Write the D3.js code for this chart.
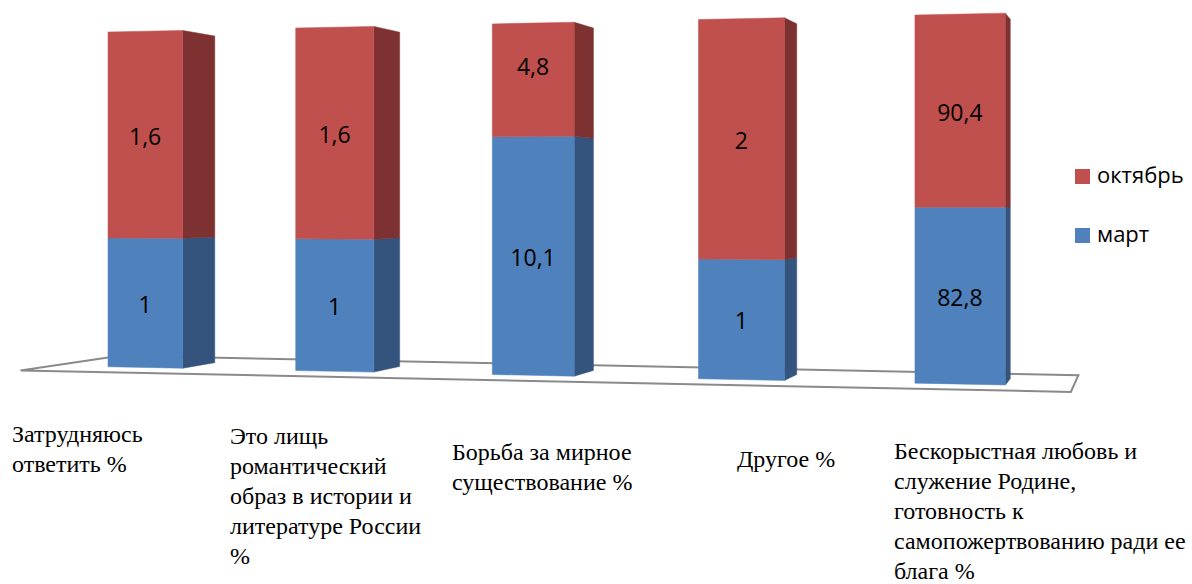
<!DOCTYPE html>
<html><head><meta charset="utf-8">
<script src="https://cdn.jsdelivr.net/npm/d3@7"></script>
<style>body{margin:0;background:#fff}svg{display:block}</style>
</head><body><svg id="c" width="1192" height="584"></svg>
<script>
// ---- data ----
const categories = [
  "Затрудняюсь ответить %",
  "Это лищь романтический образ в истории и литературе России %",
  "Борьба за мирное существование %",
  "Другое %",
  "Бескорыстная любовь и служение Родине, готовность к самопожертвованию ради ее блага %"
];
const categoryLines = [
  ["Затрудняюсь", "ответить %"],
  ["Это лищь", "романтический", "образ в истории и", "литературе России", "%"],
  ["Борьба за мирное", "существование %"],
  ["Другое %"],
  ["Бескорыстная любовь и", "служение Родине,", "готовность к", "самопожертвованию ради ее", "блага %"]
];
const seriesNames = ["март", "октябрь"];
const march = [1, 1, 10.1, 1, 82.8];
const october = [1.6, 1.6, 4.8, 2, 90.4];

// ---- layout / style ----
const colors = {"март": {front: "#4F81BD", side: "#34547E"}, "октябрь": {front: "#C0504D", side: "#7D3130"}};
const labelAnchors = [[12, 442], [230, 444], [452, 460], [737, 467], [894, 459]];
const labelShift = {"октябрь": [0, 0, -15, 0, 0], "март": [0, 0, 0, 0, 0]};

const svg = d3.select("#c");
const rows = categories.map((c, i) => ({cat: c, "март": march[i], "октябрь": october[i]}));
const stacked = d3.stack().keys(seriesNames).offset(d3.stackOffsetExpand)(rows);

const uScale = d3.scaleBand().domain(categories).range([-0.0677, 1.0663]).paddingInner(0.597).paddingOuter(0.2985);
const vScale = d3.scaleLinear().domain([0, 1]).range([0, 100]);

// perspective: front plane mapping + depth toward a vanishing point
const VP = [1157, 200];
function front(u, v) { const D = 1 - 0.1 * u; return [(798 * u + 108) / D, (-20.2 * u - 3.347 * v + 366.7) / D]; }
function proj(u, v, s) { const p = front(u, v); return [VP[0] + (p[0] - VP[0]) * s, VP[1] + (p[1] - VP[1]) * s]; }
const sFront = 1, sBack = 0.967, floorFront = 1.03, floorBack = 0.94;
const line = d3.line();

// floor
const [fu0, fu1] = uScale.range();
svg.append("path")
  .attr("d", line([proj(fu0, 0, floorFront), proj(fu1, 0, floorFront), proj(fu1, 0, floorBack), proj(fu0, 0, floorBack)]) + "Z")
  .attr("fill", "#fff").attr("stroke", "#8a8a8a").attr("stroke-width", 2).attr("stroke-linejoin", "miter");

// bars
categories.forEach((cat, i) => {
  const u0 = uScale(cat), u1 = u0 + uScale.bandwidth();
  stacked.forEach(layer => {
    const d = layer[i];
    const v0 = vScale(d[0]), v1 = vScale(d[1]);
    const c = colors[layer.key];
    svg.append("path")
      .attr("d", line([proj(u1, v0, sFront), proj(u1, v0, sBack), proj(u1, v1, sBack), proj(u1, v1, sFront)]) + "Z")
      .attr("fill", c.side).attr("stroke", c.side).attr("stroke-width", 0.5);
    svg.append("path")
      .attr("d", line([proj(u0, v0, sFront), proj(u1, v0, sFront), proj(u1, v1, sFront), proj(u0, v1, sFront)]) + "Z")
      .attr("fill", c.front).attr("stroke", c.front).attr("stroke-width", 0.5);
  });
});

// data labels
const fmt = d3.formatLocale({decimal: ",", thousands: " ", grouping: [3], currency: ["", ""]}).format("~g");
categories.forEach((cat, i) => {
  const uc = uScale(cat) + uScale.bandwidth() / 2;
  stacked.forEach(layer => {
    const d = layer[i];
    const p = proj(uc, vScale((d[0] + d[1]) / 2), sFront);
    svg.append("text")
      .attr("x", p[0]).attr("y", p[1] + 2 + labelShift[layer.key][i])
      .attr("dy", "0.35em").attr("text-anchor", "middle")
      .attr("font-family", "'Open Sans', sans-serif").attr("font-size", 23).attr("fill", "#000")
      .text(fmt(d.data[layer.key]));
  });
});

// category labels
categoryLines.forEach((lines, i) => {
  const t = svg.append("text")
    .attr("x", labelAnchors[i][0]).attr("y", labelAnchors[i][1])
    .style("font-family", "\"Liberation Serif\", \"Times New Roman\", serif").attr("font-size", 24).attr("fill", "#000");
  lines.forEach((ln, j) => t.append("tspan").attr("x", labelAnchors[i][0]).attr("dy", j ? 30 : 0).text(ln));
});

// legend
const legendItems = seriesNames.slice().reverse();
legendItems.forEach((name, j) => {
  const g = svg.append("g").attr("transform", `translate(1075,${169 + j * 59})`);
  g.append("rect").attr("width", 15).attr("height", 15).attr("fill", colors[name].front);
  g.append("text").attr("x", 22).attr("y", 14)
    .attr("font-family", "'Open Sans', sans-serif").attr("font-size", 22).attr("fill", "#000").text(name);
});
</script></body></html>
